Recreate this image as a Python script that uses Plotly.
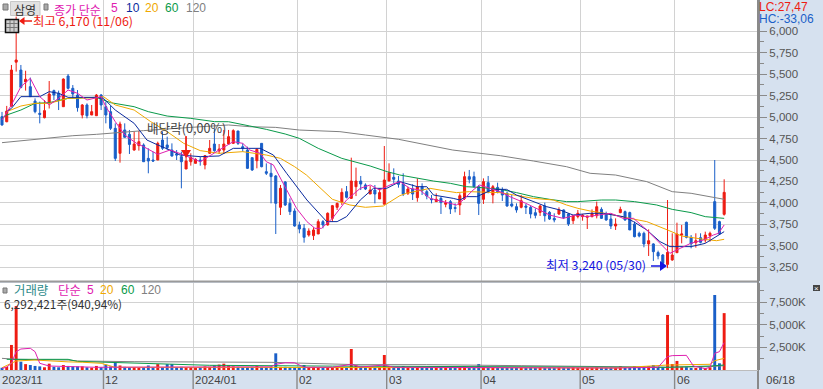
import plotly.graph_objects as go

W, H = 823, 389
# ---------- candle data (won), trading-day index 0 = 2023/11/01 ... 153 = 2024/06/18
opens = [5005,4946,5129,5640,5548,5409,5354,5187,5044,4993,5168,5308,5277,5121,5478,5335,5257,5024,5141,5024,
         5016,5257,5121,5063,4869,4578,4850,4799,4616,4667,4675,4519,4500,4500,4733,4675,4616,4570,4539,4395,
         4480,4461,4500,4442,4578,4686,4605,4616,4686,4694,4838,4655,4616,4527,4492,4694,4364,4345,4314,3949,
         4244,3995,3906,3743,3704,3626,3619,3638,3782,3743,3820,3949,4007,4131,4053,4189,4255,4209,4104,4150,
         4046,3985,4255,4298,4255,4220,4112,4162,4061,4189,4131,4046,4015,4053,3984,4015,3945,3976,4053,4306,
         4306,4189,4042,4236,4092,4181,4150,4112,3988,3956,3949,3964,3949,3886,3890,3964,3890,3820,3871,3918,
         3871,3793,3840,3840,3832,3840,3851,3925,3871,3813,3731,3887,3898,3887,3754,3646,3646,3522,3522,3421,
         3393,3284,3335,3420,3626,3774,3599,3537,3595,3568,3619,4015,3782,3867]
highs = [5060,5130,5607,6170,5607,5540,5460,5218,5180,5199,5420,5320,5308,5451,5502,5373,5315,5152,5160,5141,
         5269,5269,5180,5129,4927,4947,4927,4850,4830,4840,4694,4636,4597,4714,4830,4772,4694,4616,4597,4772,
         4578,4520,4540,4558,4733,4869,4686,4850,4850,4858,4838,4694,4655,4527,4636,4694,4461,4461,4325,4209,
         4255,4053,3937,3782,3754,3704,3716,3809,3800,3890,3976,4003,4170,4197,4527,4411,4314,4228,4197,4209,
         4170,4663,4461,4403,4314,4345,4189,4217,4286,4228,4150,4092,4112,4072,4034,4034,3995,4112,4364,4384,
         4364,4209,4286,4314,4209,4236,4181,4131,4092,3995,4092,3988,3964,3937,3976,4003,3905,3879,3949,3925,
         3879,3859,3918,3871,3848,3925,4015,3949,3898,3859,3820,3956,3910,3898,3782,3665,3665,3692,3530,3444,
         3405,4034,3646,3770,3743,3782,3626,3646,3646,3665,3665,4500,3793,4275]
lows = [4900,4940,5120,5530,5335,5308,5238,5044,4927,4985,5100,5199,5082,5121,5323,5218,5063,4985,4985,5024,
        5016,5082,4927,4850,4488,4469,4764,4570,4609,4609,4480,4345,4480,4500,4617,4617,4539,4500,4170,4395,
        4434,4461,4434,4391,4570,4597,4570,4570,4680,4686,4675,4597,4395,4372,4403,4415,4325,3995,3638,3859,
        3964,3859,3723,3646,3537,3607,3568,3638,3704,3735,3782,3918,3976,4053,4046,4080,4150,4150,4104,3995,
        4046,3985,4255,4228,4178,4080,4092,4034,4014,4092,4042,3995,4015,3871,3949,3871,3890,3859,4034,4228,
        4181,3859,3988,4112,3995,4112,4022,3956,3949,3886,3937,3871,3820,3820,3848,3782,3801,3774,3860,3812,
        3731,3754,3820,3793,3696,3832,3820,3813,3793,3696,3685,3880,3793,3685,3599,3599,3483,3382,3324,3343,
        3277,3240,3327,3420,3529,3587,3471,3479,3529,3537,3549,3685,3626,3852]
closes = [4908,5070,5548,5665,5346,5440,5238,5063,5032,5075,5269,5257,5199,5443,5335,5269,5110,5141,5016,5063,
          5257,5141,5024,4869,4519,4919,4764,4682,4686,4713,4480,4488,4488,4694,4636,4644,4547,4558,4480,4488,
          4531,4508,4488,4550,4636,4608,4628,4686,4772,4842,4694,4636,4403,4384,4624,4422,4345,4306,3995,4170,
          3976,3898,3731,3696,3599,3673,3685,3782,3743,3879,3968,3995,4123,4065,4255,4255,4220,4162,4150,4104,
          4120,4267,4352,4275,4217,4104,4162,4104,4189,4143,4081,4038,4042,4003,4003,3929,3937,4084,4306,4275,
          4189,3995,4248,4131,4189,4131,4092,3964,3964,3918,4026,3949,3871,3855,3964,3851,3812,3801,3918,3828,
          3754,3851,3879,3859,3848,3879,3956,3820,3801,3731,3754,3925,3801,3685,3607,3615,3522,3560,3432,3382,
          3296,3424,3393,3638,3638,3599,3522,3560,3541,3626,3646,3704,3638,4123]

# ---------- price moving averages (day index, won)
ma5_x = [0,2,4,6,8,10,12,14,16,18,21,22,24,26,28.5,30,33,35.6,38,42,46,49,51,52.5,54.7,56,57.5,59.6,62.4,64.6,66.3,67.7,70,73,75.9,78,80,82.2,84.3,86.4,88.5,90.7,93.5,96.3,97.7,99.8,101.2,103.4,105.5,107.6,111,113.9,116,118.9,121.7,123.9,126.7,129,131.6,133.8,136.6,139.4,141.5,143.7,145.9,148.6,150.7,151.8,153]
ma5_y = [4966,5141,5354,5451,5238,5141,5218,5315,5277,5199,5238,5121,4947,4791,4694,4655,4566,4616,4570,4480,4616,4714,4694,4616,4578,4480,4442,4228,3937,3782,3704,3704,3820,4034,4170,4209,4150,4209,4248,4170,4150,4053,4015,3976,4034,4150,4209,4170,4131,4073,3995,3918,3859,3820,3859,3840,3859,3879,3820,3820,3685,3529,3413,3471,3529,3568,3626,3646,3743]
ma10_x = [1,2,4,6,8,10,12,14,20,21.5,24,28,30.7,33,35.6,37.7,42,46,49,54.7,57.5,60.3,64.6,68.8,71,73,75.9,78.7,81.5,84.3,88,90,91.4,95.6,97,98.4,100.6,104,106.9,109,112.6,115.4,118.2,121,124.6,127.4,131.6,133.8,136.6,139.4,141.5,146,149,151.8,153]
ma10_y = [5063,5102,5238,5238,5238,5296,5277,5230,5230,5218,5082,4927,4733,4675,4616,4558,4539,4547,4636,4636,4558,4345,4034,3782,3782,3840,4034,4170,4170,4248,4189,4189,4092,4053,4034,4073,4073,4158,4158,4092,4015,3956,3918,3859,3879,3879,3840,3782,3685,3549,3491,3491,3529,3626,3665]
ma20_x = [1,4,7,10,14,20,21.5,24,28,31.5,35,38.5,42,46,51,56,59,62,64.5,67.4,70,73.7,77,80.8,84.3,85.7,90.7,93.5,96.3,99,105.5,112.6,116.8,119.6,122,124.6,129,133,136.6,141,144,148.6,151.4,153]
ma20_y = [5063,5129,5160,5160,5218,5226,5238,5141,5082,4947,4830,4694,4609,4578,4597,4558,4519,4422,4325,4170,4042,3976,3949,3964,4085,4112,4170,4143,4120,4131,4120,4053,4034,3976,3937,3906,3867,3820,3782,3685,3615,3576,3560,3576]
ma60_x = [0,1,4,7,10,14,20,23,28,31,35,40,45,48,52.5,56,60,63,67,72,78,81.6,84.3,88,91.4,95,98.4,101,105.6,109,112.6,116,119.6,122,127,130,134,138.7,142,146,149,153]
ma60_y = [4985,5024,5082,5160,5168,5218,5230,5168,5121,5063,5012,4985,4947,4946,4896,4857,4803,4752,4636,4519,4430,4364,4325,4286,4255,4228,4189,4181,4158,4120,4073,4042,4015,4015,4034,4034,4015,3976,3925,3887,3840,3820]
ma120_x = [0,5,10,15,20,25,30,40,48,52.5,58,63,71.6,77,80,84,95.5,101,105.6,112.6,119.6,124.6,130,136.6,142,146,153]
ma120_y = [4702,4730,4752,4783,4799,4822,4842,4880,4908,4888,4880,4849,4830,4791,4772,4741,4616,4577,4550,4488,4422,4345,4325,4248,4131,4112,4042]

# ---------- volume (thousand shares)
volumes = [250,350,2770,7080,920,650,550,450,400,300,700,350,300,550,450,400,400,400,300,250,
           450,300,600,400,800,500,350,300,300,250,300,500,300,650,300,650,650,300,350,300,
           300,250,300,400,350,500,600,700,550,400,350,300,300,350,450,350,300,350,1845,350,
           350,300,300,350,550,300,350,300,300,300,250,300,350,300,2325,500,350,300,250,300,
           300,1660,400,300,300,440,300,250,350,300,250,300,250,300,250,300,250,350,400,300,
           300,660,350,300,300,250,300,300,250,300,250,250,300,250,300,250,300,250,300,250,
           250,300,250,250,250,250,300,250,250,250,250,440,250,300,440,300,440,440,550,300,
           300,6090,660,1000,360,360,220,150,370,150,300,8300,740,6292]
vma5_x = [0,1,2,3,4,6,7,8,10,14,20,30,45,57,58,60,62,64,70,74,76,81,83,90,110,130,139,141,142,145,146.5,149,150,151,152,153]
vma5_y = [185,320,740,2030,2320,2400,2030,740,440,370,300,320,350,350,630,800,800,300,300,620,330,550,300,280,220,220,300,1480,1590,1620,440,150,300,1845,2030,3025]
vma20_x = [0,3,7,10,14,17,21,24,35,60,100,130,141,150,151,153]
vma20_y = [250,1000,1100,1000,900,860,740,300,300,330,260,220,550,630,1030,1290]
vma60_x = [1,3,14,16,28,44,70,100,130,141,150,153]
vma60_y = [1180,1180,1180,950,740,520,430,370,300,300,440,550]
vma120_x = [0,3,14,16,28,57,75,90,110,130,141,150,153]
vma120_y = [1290,1180,1100,1000,920,850,590,590,480,370,300,370,480]

# ---------- axis text
price_ticks = [3250,3500,3750,4000,4250,4500,4750,5000,5250,5500,5750,6000]
price_labels = ["3,250","3,500","3,750","4,000","4,250","4,500","4,750","5,000","5,250","5,500","5,750","6,000"]
vol_ticks = [2500,5000,7500]
vol_labels = ["2,500K","5,000K","7,500K"]
month_index = [22,41,63,82,102,123,143]
month_labels = ["12","2024/01","02","03","04","05","06"]

RED, BLUE = "#ee1c12", "#1a5fc8"
MAG, NAVY, ORG, GRN, GRY = "#e020b0", "#0a2a9e", "#f0a800", "#0a9a4a", "#808080"
GRID, STRIP, AXC, TXT = "#d2d2d2", "#d6e1ef", "#8a8a8a", "#555555"
KR = "Noto Sans CJK KR"
LAT = "Liberation Sans"

def px(x): return x / W
def py(y): return 1 - y / H

idx = list(range(len(opens)))
fig = go.Figure()
fig.add_trace(go.Candlestick(x=idx, open=opens, high=highs, low=lows, close=closes,
    increasing=dict(line=dict(color=RED, width=1), fillcolor=RED),
    decreasing=dict(line=dict(color=BLUE, width=1), fillcolor=BLUE),
    whiskerwidth=0, xaxis="x", yaxis="y", showlegend=False))
for xs, ys, c in [(ma120_x, ma120_y, GRY), (ma60_x, ma60_y, GRN), (ma20_x, ma20_y, ORG),
                  (ma10_x, ma10_y, NAVY), (ma5_x, ma5_y, MAG)]:
    fig.add_trace(go.Scatter(x=xs, y=ys, mode="lines", line=dict(color=c, width=1),
                             xaxis="x", yaxis="y", showlegend=False))
vol_colors = [RED if c >= o else BLUE for o, c in zip(opens, closes)]
fig.add_trace(go.Bar(x=idx, y=volumes, width=0.62, marker=dict(color=vol_colors, line=dict(width=0)),
                     xaxis="x2", yaxis="y2", showlegend=False))
for xs, ys, c in [(vma120_x, vma120_y, GRY), (vma60_x, vma60_y, GRN), (vma20_x, vma20_y, ORG), (vma5_x, vma5_y, MAG)]:
    fig.add_trace(go.Scatter(x=xs, y=ys, mode="lines", line=dict(color=c, width=1),
                             xaxis="x2", yaxis="y2", showlegend=False))

xr = [-2 / 4.72, (758 - 2) / 4.72]
grid_x = [i - 0.5 for i in month_index]
xcommon = dict(range=xr, tickmode="array", tickvals=grid_x, ticktext=[""] * len(grid_x), showgrid=True,
               gridcolor=GRID, gridwidth=1.4, zeroline=False, showline=False, ticks="", showticklabels=False,
               domain=[0, 758 / W], fixedrange=True)
ycommon = dict(side="right", showgrid=True, gridcolor=GRID, gridwidth=1.4, zeroline=False, showline=True,
               linecolor=AXC, linewidth=2, ticks="outside", ticklen=7, tickcolor=AXC, tickwidth=1,
               tickmode="array", tickfont=dict(family=LAT, size=11.5, color=TXT), fixedrange=True)
price_range = [4500 - (281 - 160) * 11.65, 4500 + 160 * 11.65]
fig.update_layout(
    width=W, height=H, margin=dict(l=0, r=0, t=0, b=0), paper_bgcolor=STRIP, plot_bgcolor="#ffffff",
    showlegend=False, boxgap=0.38, bargap=0.3, hovermode=False,
    xaxis=dict(anchor="y", rangeslider=dict(visible=False), **xcommon),
    xaxis2=dict(anchor="y2", **xcommon),
    yaxis=dict(domain=[py(281), 1], range=price_range, anchor="x", tickvals=price_ticks, ticktext=price_labels,
               minor=dict(tickvals=[p + 125 for p in price_ticks[:-1]], ticklen=4, tickcolor=AXC, ticks="outside", showgrid=False), **ycommon),
    yaxis2=dict(domain=[py(370), py(283)], range=[0, (370 - 283) / 22.6 * 2500], anchor="x2", tickvals=vol_ticks, ticktext=vol_labels,
                minor=dict(tickvals=[1250,3750,6250,8750], ticklen=4, tickcolor=AXC, ticks="outside", showgrid=False), **ycommon),
)

shapes, ann = [], []
def rect(x0, y0, x1, y1, fill=None, line=None, w=1):
    shapes.append(dict(type="rect", xref="paper", yref="paper", x0=px(x0), x1=px(x1), y0=py(y0), y1=py(y1),
                       fillcolor=fill or "rgba(0,0,0,0)", line=dict(color=line or "rgba(0,0,0,0)", width=w if line else 0)))
def seg(x0, y0, x1, y1, c, w=1):
    shapes.append(dict(type="line", xref="paper", yref="paper", x0=px(x0), x1=px(x1), y0=py(y0), y1=py(y1), line=dict(color=c, width=w)))
def tri(pts, c):
    d = "M" + " L".join(f"{px(a):.5f},{py(b):.5f}" for a, b in pts) + " Z"
    shapes.append(dict(type="path", xref="paper", yref="paper", path=d, fillcolor=c, line=dict(color=c, width=0)))
def text(x, y, s, c, size=13, anchor="left", font=KR):
    ann.append(dict(xref="paper", yref="paper", x=px(x), y=py(y), text=s, showarrow=False, xanchor=anchor, yanchor="middle",
                    font=dict(family=font, size=size, color=c), align="left", borderpad=0, borderwidth=0))

# pane separator and axis rule
seg(0, 281.5, 758, 281.5, "#9a9a9a", 2)
seg(758, 0, 758, 389, AXC, 2)
seg(0, 370.5, 758, 370.5, "#bcbcbc", 1)
for g in grid_x:
    xp = 2 + 4.72 * g
    seg(xp, 370, xp, 389, "#8a8a8a", 1.4)

# month labels along the bottom strip
text(2, 379.5, "2023/11", "#444444", 11.5, font=LAT)
for g, lab in zip(grid_x, month_labels):
    text(2 + 4.72 * g + 2, 379.5, lab, "#444444", 11.5, font=LAT)
text(766, 379.5, "06/18", "#444444", 11.5, font=LAT)

# top-left controls and legend
rect(3, 4, 8, 10, "#aaaaaa", "#777777")
rect(10.5, 1.5, 40, 15.5, "#e2e2e2", "#c8c8c8")
text(25, 9, "삼영", "#333333", 12, "center")
rect(44, 4, 48, 10, "#aaaaaa", "#777777")
text(54, 9, "종가 단순", MAG, 12)
text(111, 8, "5", MAG, 12, font=LAT)
text(126, 8, "10", NAVY, 12, font=LAT)
text(145, 8, "20", ORG, 12, font=LAT)
text(165, 8, "60", GRN, 12, font=LAT)
text(186, 8, "120", GRY, 12, font=LAT)
# table icon
rect(5.5, 19.5, 18.5, 32.5, "#cfcfcf", "#111111", 1.5)
for xv in (10, 14):
    seg(xv, 20, xv, 32, "#777777", 1)
for yv in (23.5, 27.5):
    seg(6, yv, 18, yv, "#777777", 1)
# high marker
tri([(19, 21), (24.5, 17), (24.5, 25)], RED)
seg(24, 21, 32, 21, RED, 1.5)
text(33, 20.5, "최고 6,170 (11/06)", RED, 12.4)
# ex-dividend marker
text(147, 128, "배당락(0,00%)", "#444444", 12.6)
seg(186, 136, 186, 152, RED, 1.5)
tri([(181, 150), (191, 150), (186, 158)], RED)
# low marker
text(546, 265, "최저 3,240 (05/30)", "#1414e0", 12.4)
seg(651, 266, 661, 266, "#1414e0", 1.5)
tri([(660, 261), (660, 271), (667, 266)], "#1414e0")
# right-top readouts
text(759, 7, "LC:27,47", RED, 12, font=LAT)
text(759, 19, "HC:-33,06", BLUE, 12, font=LAT)
# volume legend
rect(3, 288, 7, 293, "#aaaaaa", "#777777")
text(14, 290, "거래량", "#2e8b8b", 12.4)
text(58, 290, "단순", MAG, 12.4)
text(87, 290, "5", MAG, 12, font=LAT)
text(100, 290, "20", ORG, 12, font=LAT)
text(121, 290, "60", GRN, 12, font=LAT)
text(141, 290, "120", GRY, 12, font=LAT)
text(4, 303, "6,292,421주(940,94%)", "#333333", 11.8)
# expand icon
rect(813, 285, 820, 291, "#444444")
text(816.5, 288, "×", "#ffffff", 8, "center", LAT)

fig.update_layout(shapes=shapes, annotations=ann)
fig.write_html("out.html", config=dict(displayModeBar=False),
               post_script="document.body.style.margin='0';document.documentElement.style.overflow='hidden';")
